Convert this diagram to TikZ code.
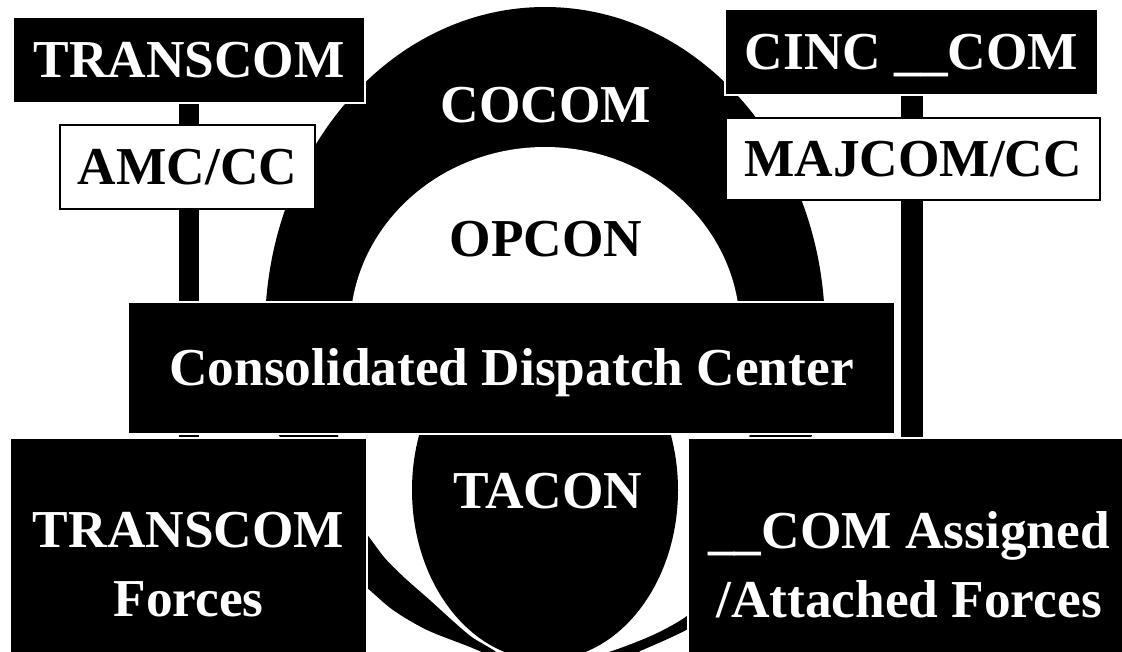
\documentclass[tikz,border=0pt]{standalone}
\usepackage{fontspec}
\setmainfont{Liberation Serif}
\pgfdeclarelayer{bg}
\pgfsetlayers{bg,main}
\tikzset{
  bigfont/.style={font=\fontsize{40}{52}\selectfont\bfseries},
  blackbox/.style={rectangle, fill=black, draw=white, line width=0.9pt, text=white, inner sep=0pt, bigfont},
  whitebox/.style={rectangle, fill=white, draw=black, line width=1pt, text=black, inner sep=0pt, bigfont},
  oneline/.style={text height=26.5pt, text depth=0pt},
  bar/.style={draw=black, line width=15pt},
  lbl/.style={inner sep=0pt, bigfont, text height=26.5pt, text depth=0pt},
}
\begin{document}
\begin{tikzpicture}[x=0.75pt,y=-0.75pt]
\useasboundingbox (0,0) rectangle (1122,651);
\begin{scope}
\clip (0,0) rectangle (1122,651);
% upper arch: COCOM (black) and OPCON (white)
\begin{scope}
\clip (0,0) rectangle (1122,433);
\fill[black] (545,330) ellipse [x radius=280, y radius=323];
\fill[white] (545,330) ellipse [x radius=195, y radius=183];
\end{scope}
% lower part: outer black band, white crescent, TACON
\begin{scope}
\clip (0,433) rectangle (1122,651);
\fill[black] (278,433) -- (300,480) -- plot[smooth] coordinates {(345,572) (366,587) (393,610) (427,630) (470,647) (500,660)} -- (630,662) -- plot[smooth] coordinates {(640,651) (688,629) (740,595)} -- (813,433) -- cycle;
\fill[white] (338,433) -- plot[smooth] coordinates {(345,510) (366,533) (385,558) (405,578) (430,600) (452,620) (472,637) (495,651) (502,660)} -- plot[smooth] coordinates {(590,658) (623,647) (657,633) (688,615) (720,585)} -- (750,433) -- cycle;
\fill[black] (545,490) ellipse [x radius=133, y radius=170];
\end{scope}

\node[lbl, text=white] (cocom) at (546,105) {COCOM};
\node[lbl, text=black] (opcon) at (546,238.5) {OPCON};
\node[lbl, text=white] (tacon) at (548,491) {TACON};

\node[blackbox, oneline, minimum width=264pt, minimum height=64.5pt] (tTop) at (189,60) {TRANSCOM};
\node[whitebox, oneline, minimum width=191.25pt, minimum height=63pt] (amc) at (187.5,167) {AMC/CC};
\node[blackbox, oneline, minimum width=279.75pt, minimum height=64.5pt] (cinc) at (911.5,52) {CINC \_\_COM};
\node[whitebox, oneline, minimum width=280.5pt, minimum height=61.5pt] (majcom) at (913,159) {MAJCOM/CC};
\node[blackbox, oneline, minimum width=575.25pt, minimum height=99pt] (cdc) at (511.5,368) {Consolidated Dispatch Center};
\node[blackbox, align=center, minimum width=267.75pt, minimum height=189.75pt] (tForces) at (188.5,564.5) {TRANSCOM\\Forces};
\node[blackbox, align=center, minimum width=331.5pt, minimum height=189.75pt] (aForces) at (909,564.5) {\_\_COM Assigned\\/Attached Forces};

\begin{pgfonlayer}{bg}
\fill[white] (0,0) rectangle (1122,651);
\draw[bar] (tTop.south) -- (tTop.south |- tForces.north);
\draw[bar, line width=16.5pt] (cinc.south) -- (cinc.south |- aForces.north);
\end{pgfonlayer}
\end{scope}
\end{tikzpicture}
\end{document}
